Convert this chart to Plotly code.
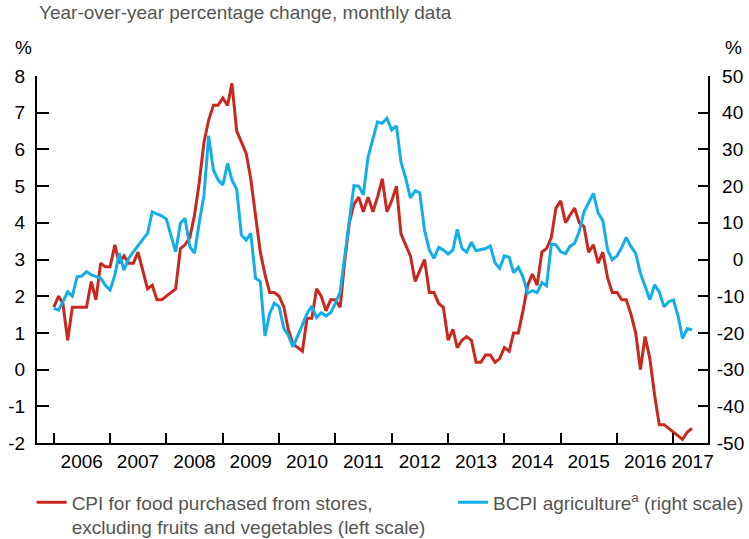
import plotly.graph_objects as go
import pandas as pd

# monthly observations, Jan 2006 - May 2017
months = pd.date_range("2006-01-01", "2017-05-01", freq="MS")

cpi_food = [
    1.7, 2.0, 1.8, 0.8, 1.7, 1.7, 1.7, 1.7, 2.4, 1.9, 2.9, 2.8,
    2.8, 3.4, 2.9, 3.1, 2.9, 2.9, 3.2, 2.7, 2.2, 2.3, 1.9, 1.9,
    2.0, 2.1, 2.2, 3.3, 3.4, 3.6, 4.2, 5.1, 6.2, 6.8, 7.2, 7.2,
    7.4, 7.2, 7.8, 6.5, 6.2, 5.9, 5.2, 4.2, 3.2, 2.6, 2.1, 2.1,
    2.0, 1.7, 1.1, 0.7, 0.6, 0.5, 1.4, 1.4, 2.2, 2.0, 1.6, 1.9,
    1.9, 1.7, 2.9, 4.0, 4.5, 4.7, 4.3, 4.7, 4.3, 4.7, 5.2, 4.3,
    4.6, 5.0, 3.7, 3.4, 3.1, 2.4, 2.7, 3.0, 2.1, 2.1, 1.8, 1.7,
    0.8, 1.1, 0.6, 0.8, 0.9, 0.8, 0.2, 0.2, 0.4, 0.4, 0.2, 0.3,
    0.6, 0.5, 1.0, 1.0, 1.6, 2.3, 2.6, 2.3, 3.2, 3.3, 3.6, 4.4,
    4.6, 4.0, 4.2, 4.4, 4.0, 3.9, 3.2, 3.4, 2.9, 3.2, 2.5, 2.1,
    2.1, 1.9, 1.9, 1.5, 1.0, 0.0, 0.9, 0.3, -0.7, -1.5, -1.5, -1.6,
    -1.7, -1.8, -1.9, -1.7, -1.6,
]

bcpi_agri = [
    -13.3, -13.8, -11.5, -8.8, -10.0, -4.7, -4.5, -3.3, -4.2, -4.7, -5.1, -7.0,
    -8.3, -4.2, 1.7, -2.9, 0.3, 2.1, 3.9, 5.5, 7.1, 13.0, 12.4, 11.9,
    11.0, 6.7, 2.1, 9.9, 11.2, 3.5, 1.7, 10.0, 17.6, 33.7, 24.4, 21.7,
    20.3, 26.2, 21.7, 19.1, 6.7, 5.3, 7.1, -5.1, -6.0, -20.8, -14.7, -11.9,
    -12.9, -18.8, -20.6, -23.8, -21.0, -17.8, -14.7, -12.7, -15.8, -14.5, -15.4, -14.5,
    -11.9, -8.8, 0.3, 10.8, 20.1, 20.0, 17.6, 28.0, 32.6, 37.5, 37.1, 38.5,
    35.3, 36.4, 26.6, 22.1, 16.8, 18.7, 18.2, 8.0, 2.6, 0.3, 3.3, 2.6,
    1.5, 2.6, 8.2, 3.0, 2.0, 4.7, 2.4, 2.6, 3.0, 3.7, -0.9, -2.4,
    1.0, 0.6, -3.6, -2.1, -4.7, -9.2, -8.5, -9.0, -6.3, -7.2, 4.2, 4.0,
    2.1, 1.6, 3.5, 4.4, 7.6, 13.0, 15.3, 18.0, 12.6, 10.6, 2.6, -0.1,
    1.0, 3.3, 6.0, 3.5, 1.7, -3.8, -7.2, -11.0, -6.9, -8.8, -12.9, -11.5,
    -11.0, -15.6, -21.5, -18.8, -19.2,
]

years = [str(y) for y in range(2006, 2018)]
year_label_pos = [f"{y}-07-01" for y in range(2006, 2017)] + ["2017-05-05"]
year_starts = [f"{y}-01-01" for y in range(2006, 2018)]

left_ticks = list(range(-2, 9))
right_ticks = list(range(-50, 51, 10))


def right_label(v):
    # pad so the right-hand labels line up on their right edge
    s = str(v)
    if v == 0:
        return "\u2007\u00a0" + s
    if v > 0:
        return "\u00a0" + s
    return s


RED = "#C8281E"
BLUE = "#12AEEA"
GREY = "#555555"
FONT = "Liberation Sans, Arial, sans-serif"
FS = 19

fig = go.Figure()

fig.add_trace(go.Scatter(
    x=months, y=cpi_food,
    name="CPI for food purchased from stores,<br>excluding fruits and vegetables (left scale)",
    line=dict(color=RED, width=3),
    legend="legend",
))
fig.add_trace(go.Scatter(
    x=months, y=bcpi_agri,
    name="BCPI agriculture<sup>a</sup> (right scale)",
    line=dict(color=BLUE, width=3),
    yaxis="y2",
    legend="legend2",
))

axis_common = dict(
    showline=True, linecolor="black", linewidth=2,
    showgrid=False, zeroline=False,
    ticks="inside", tickcolor="black", tickwidth=2,
    tickfont=dict(family=FONT, size=FS, color="black"),
)

legend_common = dict(
    orientation="v", yanchor="top", xanchor="left",
    valign="top", bgcolor="rgba(0,0,0,0)",
    font=dict(family=FONT, size=FS, color=GREY),
)

fig.update_layout(
    width=749, height=539,
    margin=dict(l=37, r=41, t=76, b=96, autoexpand=False),
    paper_bgcolor="white", plot_bgcolor="white",
    font=dict(family=FONT),
    xaxis=dict(
        range=["2005-09-14", "2017-08-13"],
        showline=True, linecolor="black", linewidth=2,
        showgrid=False, zeroline=False,
        tickmode="array", tickvals=year_label_pos, ticktext=years,
        ticks="", tickangle=0,
        tickfont=dict(family=FONT, size=FS, color="black"),
        minor=dict(tickmode="array", tickvals=year_starts, ticks="inside",
                   ticklen=10, tickwidth=2, tickcolor="black", showgrid=False),
    ),
    yaxis=dict(
        range=[-2, 8],
        tickmode="array", tickvals=left_ticks, ticktext=[str(v) for v in left_ticks],
        ticklen=12, ticklabelstandoff=6,
        **axis_common,
    ),
    yaxis2=dict(
        range=[-50, 50], overlaying="y", side="right",
        tickmode="array", tickvals=right_ticks, ticktext=[right_label(v) for v in right_ticks],
        ticklen=10, ticklabelstandoff=3,
        **axis_common,
    ),
    showlegend=True,
    legend=dict(x=-0.008, y=-0.11, **legend_common),
    legend2=dict(x=0.62, y=-0.11, **legend_common),
    annotations=[
        dict(text="Year-over-year percentage change, monthly data",
             xref="paper", yref="paper", x=0.0, y=1.1717,
             xanchor="left", yanchor="middle", showarrow=False,
             font=dict(family=FONT, size=FS, color=GREY)),
        dict(text="%", xref="paper", yref="paper", x=-0.0194, y=1.0763,
             xanchor="center", yanchor="middle", showarrow=False,
             font=dict(family=FONT, size=FS, color="black")),
        dict(text="%", xref="paper", yref="paper", x=1.0373, y=1.0763,
             xanchor="center", yanchor="middle", showarrow=False,
             font=dict(family=FONT, size=FS, color="black")),
    ],
)

fig.write_html("out.html", config={"displayModeBar": False},
               post_script="document.body.style.margin='0';")
